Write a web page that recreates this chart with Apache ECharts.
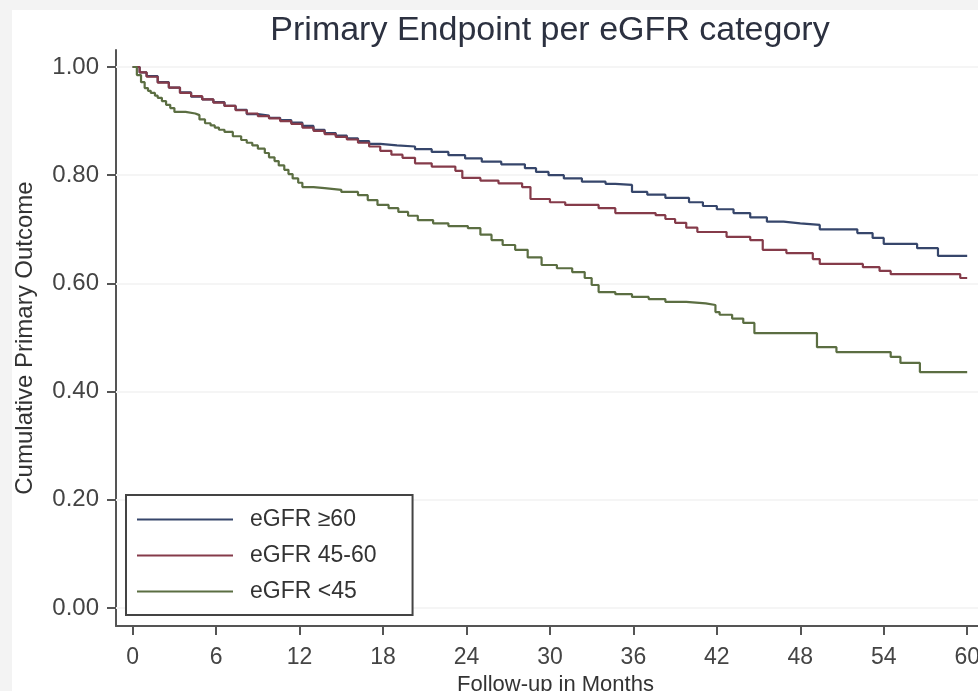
<!DOCTYPE html>
<html>
<head>
<meta charset="utf-8">
<script src="https://cdn.jsdelivr.net/npm/echarts@6/dist/echarts.min.js"></script>
<style>
    html, body { margin: 0; padding: 0; background: #f3f3f3; }
    #km-chart-box {
        position: absolute;
        left: 12px;
        top: 10px;
        width: 966px;
        height: 681px;
        background: #fff;
    }
</style>
</head>
<body>
<div id="km-chart-box"></div>
<script>
// months / cumulative outcome, one pair of arrays per group
var monthsHigh = [0, 0.5, 1.0, 1.8, 2.6, 3.4, 4.2, 5.0, 5.8, 6.6, 7.4, 8.2, 9.0, 9.8, 10.6, 11.4, 12.2, 13.0, 13.8, 14.6, 15.4, 16.2, 17.0, 17.8, 19.0, 20.3, 21.5, 22.7, 23.9, 25.1, 26.5, 28.2, 29.0, 29.9, 31.0, 32.3, 34.0, 34.7, 35.9, 37.0, 38.3, 40.0, 41.0, 42.0, 43.2, 44.4, 45.6, 46.8, 48.0, 49.4, 52.1, 53.2, 54.0, 56.4, 57.9, 60];
var survHigh = [1.000, 0.990, 0.983, 0.972, 0.962, 0.953, 0.945, 0.940, 0.935, 0.928, 0.921, 0.913, 0.910, 0.906, 0.902, 0.897, 0.891, 0.884, 0.878, 0.873, 0.868, 0.863, 0.858, 0.855, 0.853, 0.848, 0.843, 0.837, 0.831, 0.825, 0.820, 0.813, 0.806, 0.800, 0.794, 0.788, 0.784, 0.782, 0.769, 0.764, 0.758, 0.750, 0.743, 0.737, 0.730, 0.722, 0.714, 0.711, 0.708, 0.700, 0.693, 0.684, 0.673, 0.665, 0.651, 0.651];

var monthsMid = [0, 0.5, 1.0, 1.8, 2.6, 3.4, 4.2, 5.0, 5.8, 6.6, 7.4, 8.2, 9.0, 9.8, 10.6, 11.4, 12.2, 13.0, 13.8, 14.6, 15.4, 16.2, 17.0, 17.8, 18.6, 19.4, 20.3, 21.5, 23.2, 23.7, 25.0, 26.3, 28.0, 28.6, 30.0, 31.1, 33.5, 34.7, 37.6, 38.3, 39.0, 39.8, 40.6, 42.7, 44.4, 45.3, 47.0, 48.9, 49.4, 52.5, 53.7, 54.5, 59.5, 60];
var survMid = [1.000, 0.990, 0.982, 0.971, 0.962, 0.952, 0.946, 0.940, 0.934, 0.928, 0.920, 0.914, 0.909, 0.905, 0.900, 0.895, 0.888, 0.882, 0.876, 0.871, 0.866, 0.860, 0.853, 0.845, 0.838, 0.832, 0.822, 0.816, 0.808, 0.795, 0.790, 0.785, 0.778, 0.756, 0.750, 0.745, 0.739, 0.730, 0.726, 0.719, 0.712, 0.703, 0.695, 0.686, 0.680, 0.662, 0.656, 0.645, 0.636, 0.630, 0.623, 0.617, 0.610, 0.610];

var monthsLow = [0, 0.3, 0.6, 0.86, 1.1, 1.3, 1.6, 1.8, 2.1, 2.4, 2.7, 3.0, 3.8, 4.5, 4.8, 5.2, 5.6, 5.9, 6.2, 6.6, 7.2, 7.8, 8.2, 8.6, 9.0, 9.5, 9.8, 10.2, 10.5, 10.9, 11.2, 11.5, 11.9, 12.2, 13.0, 13.8, 15.0, 16.2, 16.9, 17.6, 18.4, 19.1, 19.8, 20.5, 21.6, 22.7, 24.1, 25.0, 25.8, 26.6, 27.5, 28.4, 29.4, 30.5, 31.6, 32.5, 33.0, 33.5, 34.7, 35.9, 37.1, 38.3, 39.8, 41.2, 41.9, 42.2, 43.1, 43.9, 44.7, 48.5, 49.2, 50.6, 54.5, 55.2, 56.6, 60];
var survLow = [1.000, 0.985, 0.972, 0.961, 0.956, 0.952, 0.947, 0.943, 0.937, 0.930, 0.924, 0.917, 0.914, 0.911, 0.903, 0.896, 0.892, 0.888, 0.884, 0.880, 0.872, 0.865, 0.860, 0.855, 0.849, 0.841, 0.833, 0.826, 0.818, 0.810, 0.802, 0.794, 0.786, 0.778, 0.776, 0.773, 0.769, 0.763, 0.754, 0.745, 0.739, 0.732, 0.725, 0.717, 0.711, 0.706, 0.702, 0.690, 0.680, 0.671, 0.662, 0.648, 0.634, 0.628, 0.621, 0.610, 0.597, 0.584, 0.580, 0.575, 0.571, 0.566, 0.563, 0.560, 0.547, 0.542, 0.535, 0.527, 0.508, 0.508, 0.482, 0.473, 0.464, 0.453, 0.436, 0.436];

var groupNames = ['eGFR \u226560', 'eGFR 45-60', 'eGFR <45'];
var xTicks = [0, 6, 12, 18, 24, 30, 36, 42, 48, 54, 60];
var yTicks = [0, 0.2, 0.4, 0.6, 0.8, 1.0];

var fontFam = '"Liberation Sans", Arial, sans-serif';
var axisColor = '#555';

function pairs(xs, ys) {
    var out = [];
    for (var i = 0; i < xs.length; i++) {
        out.push([xs[i], ys[i]]);
    }
    return out;
}

function kmSeries(name, xs, ys, color) {
    return {
        name: name,
        type: 'line',
        step: 'end',
        symbol: 'none',
        data: pairs(xs, ys),
        lineStyle: { color: color, width: 2.2 },
        itemStyle: { color: color },
        z: 10
    };
}

var gridLines = [];
for (var k = 0; k < yTicks.length; k++) {
    gridLines.push({ yAxis: yTicks[k] });
}

var option = {
    animation: false,
    textStyle: { fontFamily: fontFam },
    title: {
        text: 'Primary Endpoint per eGFR category',
        left: 538,
        top: 4,
        textAlign: 'center',
        padding: 0,
        textStyle: {
            fontFamily: fontFam,
            fontSize: 34,
            fontWeight: 'normal',
            color: '#2c3140'
        }
    },
    grid: {
        left: 104,
        right: -17,
        top: 40,
        bottom: 65,
        containLabel: false,
        outerBoundsMode: 'none'
    },
    legend: {
        orient: 'vertical',
        left: 114,
        top: 485,
        padding: [12, 36, 11, 11],
        icon: 'rect',
        itemWidth: 96,
        itemHeight: 2,
        itemGap: 11,
        borderColor: '#444',
        borderWidth: 2,
        borderRadius: 0,
        backgroundColor: '#fff',
        data: groupNames,
        textStyle: {
            fontFamily: fontFam,
            fontSize: 23,
            lineHeight: 25,
            color: '#333',
            padding: [0, 0, 0, 12]
        }
    },
    xAxis: {
        type: 'value',
        min: -1.2,
        max: 62,
        name: 'Follow-up in Months',
        nameLocation: 'middle',
        nameGap: 46,
        nameTextStyle: { fontFamily: fontFam, fontSize: 22, color: '#333' },
        axisLine: { onZero: false, lineStyle: { color: axisColor, width: 2 } },
        axisTick: { show: true, length: 9, customValues: xTicks, lineStyle: { color: axisColor, width: 2 } },
        axisLabel: { customValues: xTicks, margin: 20, fontSize: 23, color: '#444', fontFamily: fontFam },
        splitLine: { show: false }
    },
    yAxis: {
        type: 'value',
        min: -0.0333,
        max: 1.0314,
        name: 'Cumulative Primary Outcome',
        nameLocation: 'middle',
        nameGap: 79,
        nameTextStyle: { fontFamily: fontFam, fontSize: 24, color: '#333' },
        axisLine: { show: true, onZero: false, lineStyle: { color: axisColor, width: 2 } },
        axisTick: { show: true, length: 9, customValues: yTicks, lineStyle: { color: axisColor, width: 2 } },
        axisLabel: {
            customValues: yTicks,
            margin: 17,
            fontSize: 24,
            color: '#444',
            fontFamily: fontFam,
            formatter: function (v) { return v.toFixed(2); }
        },
        splitLine: { show: false }
    },
    series: [
        {
            // faint horizontal reference lines at each y tick
            type: 'line',
            data: [],
            silent: true,
            z: 1,
            markLine: {
                silent: true,
                symbol: 'none',
                z: 1,
                label: { show: false },
                lineStyle: { color: '#f5f5f5', width: 2, type: 'solid' },
                data: gridLines
            }
        },
        kmSeries(groupNames[0], monthsHigh, survHigh, '#36466b'),
        kmSeries(groupNames[1], monthsMid, survMid, '#853b4a'),
        kmSeries(groupNames[2], monthsLow, survLow, '#5b6e42')
    ]
};

var kmChart = echarts.init(document.getElementById('km-chart-box'));
kmChart.setOption(option);
</script>
</body>
</html>
